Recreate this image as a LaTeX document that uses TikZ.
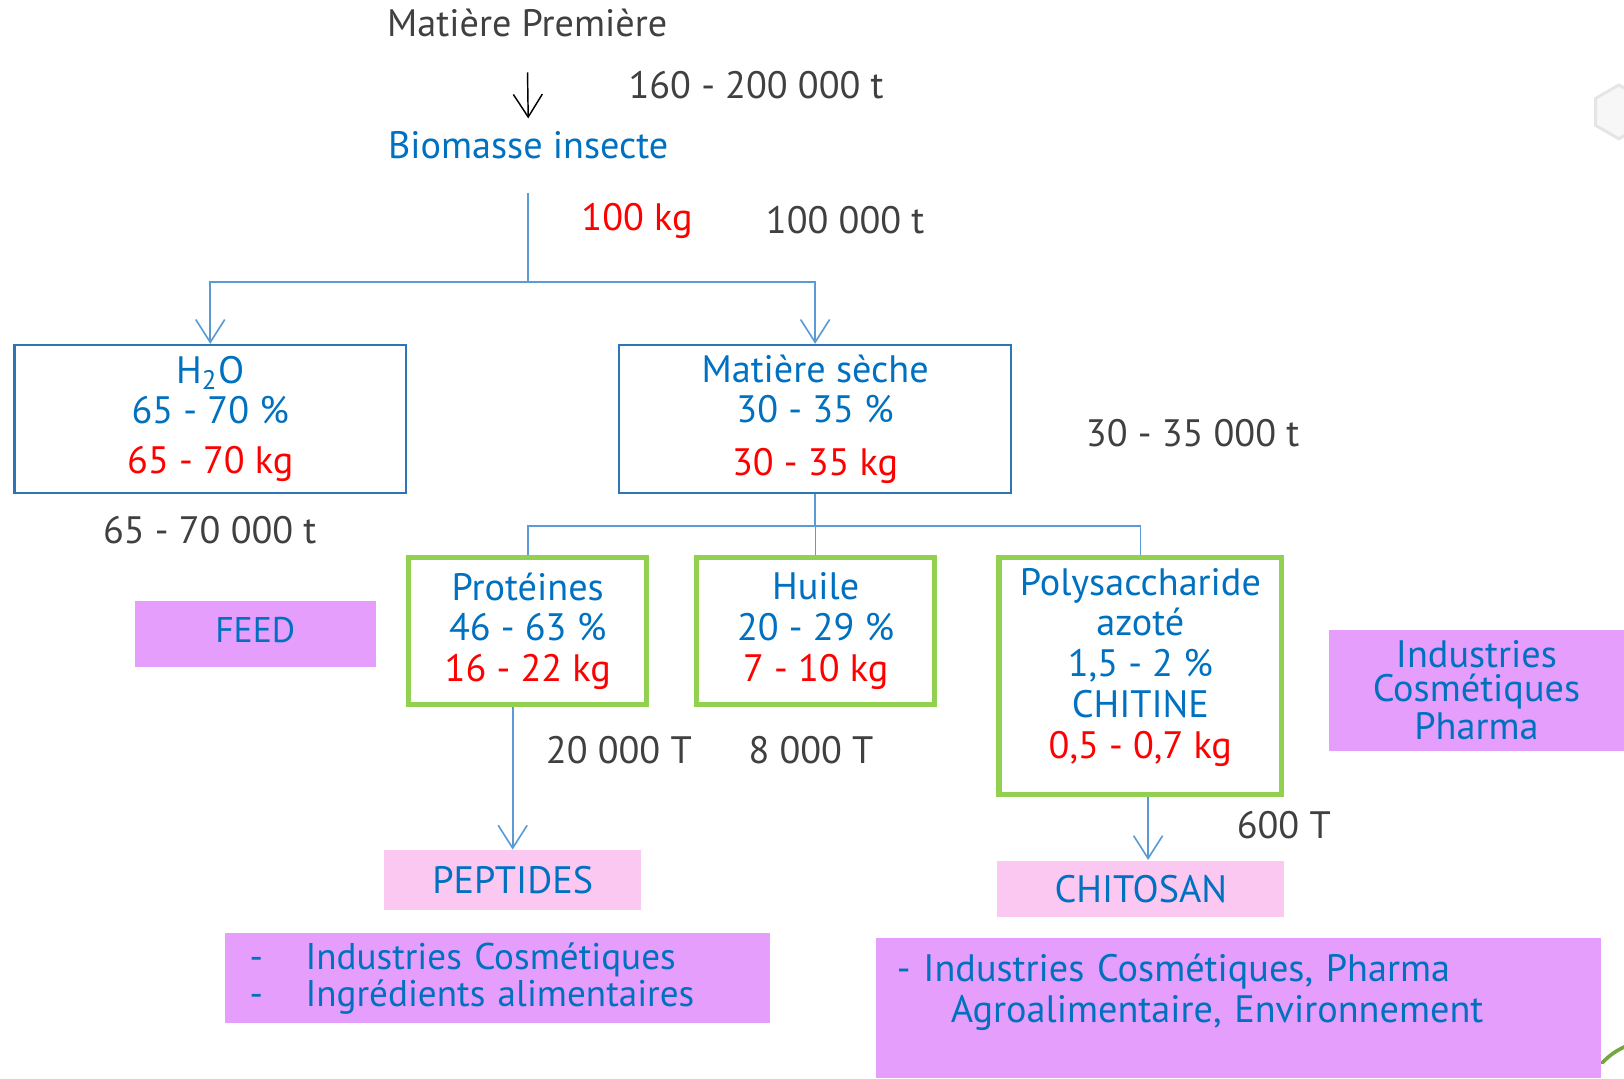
\documentclass[tikz,border=0pt]{standalone}
\usepackage{fontspec}
\setmainfont{PT Sans}
\usetikzlibrary{positioning,arrows.meta,calc}
\definecolor{TextBlue}{RGB}{0,112,192}
\definecolor{TextGray}{RGB}{64,64,64}
\definecolor{MassRed}{RGB}{255,0,0}
\definecolor{BoxBlue}{RGB}{46,117,182}
\definecolor{LinkBlue}{RGB}{91,155,213}
\definecolor{LeafGreen}{RGB}{146,208,80}
\definecolor{UseViolet}{RGB}{229,158,252}
\definecolor{ProdPink}{RGB}{251,200,242}
\newcommand{\mainsize}{\fontsize{10.5}{11.2}\selectfont}
\newcommand{\kg}[1]{\textcolor{MassRed}{#1}}
\tikzset{
  link/.style={draw=LinkBlue,line width=0.45pt},
  linkarrow/.style={-{Straight Barb[length=2.2mm,width=2.8mm]},draw=LinkBlue,line width=0.45pt},
  blackarrow/.style={-{Straight Barb[length=2.2mm,width=2.8mm]},draw=black,line width=0.4pt},
  bluebox/.style={draw=BoxBlue,line width=0.6pt,minimum width=3.78cm,minimum height=1.43cm,
    align=center,font=\mainsize,text=TextBlue,inner sep=0pt},
  greenbox/.style={draw=LeafGreen,line width=1.4pt,minimum width=2.30cm,minimum height=1.42cm,
    align=center,font=\mainsize,text=TextBlue,inner sep=0pt},
  violetbox/.style={fill=UseViolet,align=center,font=\mainsize,text=TextBlue,inner sep=0pt},
  pinkbox/.style={fill=ProdPink,align=center,font=\mainsize,text=TextBlue,inner sep=0pt},
  tonnage/.style={font=\mainsize,text=TextGray},
  flowtext/.style={font=\mainsize,text=TextBlue}
}

\begin{document}
\begin{tikzpicture}
  \useasboundingbox (0,0) rectangle (15.68,-10.41);
  % slide decoration
  \draw[black!10,fill=black!3,line width=0.8pt] (15.63,-0.82) -- (15.405,-0.95) -- (15.405,-1.21)
    -- (15.63,-1.34) -- (15.855,-1.21) -- (15.855,-0.95) -- cycle;
  \draw[LeafGreen!80!black,line width=1pt,line cap=round] (15.47,-10.26) to[bend left=10] (15.70,-10.10);

  % source
  \node[tonnage] (premiere) at (5.09,-0.22) {Matière Première};
  \node[flowtext] (biomasse) at (5.10,-1.40) {Biomasse insecte};
  \node[tonnage] (t160) at (7.30,-0.82) {160 - 200 000 t};
  \node[font=\mainsize,text=MassRed] (kg100) at (6.15,-2.13) {100 kg};
  \node[tonnage] (t100) at (8.16,-2.13) {100 000 t};
  \draw[blackarrow,shorten <=0.22cm] (premiere.south) -- (biomasse.north);
  \coordinate (split) at (5.10,-2.72);

  % first split
  \node[bluebox] (eau) at (2.03,-4.045) {H\textsubscript{2}O\\65 - 70 \%\\[0.09cm]\kg{65 - 70 kg}};
  \node[bluebox] (seche) at (7.87,-4.045) {Matière sèche\\30 - 35 \%\\[0.11cm]\kg{30 - 35 kg}};
  \node[tonnage] (t65) at (2.025,-5.12) {65 - 70 000 t};
  \node[tonnage] (t30) at (11.515,-4.18) {30 - 35 000 t};
  \draw[link,shorten <=0.21cm] (biomasse.south) -- (split);
  \draw[linkarrow] (split) -| (eau.north);
  \draw[linkarrow] (split) -| (seche.north);

  % fractions of the dry matter
  \node[greenbox] (proteines) at (5.095,-6.095) {Protéines\\46 - 63 \%\\\kg{16 - 22 kg}};
  \node[greenbox] (huile) at (7.875,-6.095) {Huile\\20 - 29 \%\\\kg{7 - 10 kg}};
  \node[greenbox,minimum width=2.73cm,minimum height=2.29cm] (chitine) at (11.01,-6.53)
    {Polysaccharide\\azoté\\1,5 - 2 \%\\CHITINE\\\kg{0,5 - 0,7 kg}\\[-0.14cm]\mbox{}};
  \coordinate (split2) at (7.87,-5.08);
  \draw[link] (seche.south) -- (split2);
  \draw[link] (split2) -| (proteines.north);
  \draw[link] (split2) -| (huile.north);
  \draw[link] (split2) -| (chitine.north);

  \node[tonnage] (t20) at (5.975,-7.24) {20 000 T};
  \node[tonnage] (t8) at (7.83,-7.24) {8 000 T};
  \node[tonnage] (t600) at (12.395,-7.97) {600 T};

  % uses
  \node[violetbox,minimum width=2.33cm,minimum height=0.64cm,font=\fontsize{9.8}{10}\selectfont]
    (feed) at (2.465,-6.12) {\raisebox{0.07cm}{FEED}};
  \node[violetbox,minimum width=2.85cm,minimum height=1.17cm,font=\fontsize{10.5}{9.1}\selectfont]
    (pharma) at (14.255,-6.665) {Industries\\Cosmétiques\\Pharma};
  \node[pinkbox,minimum width=2.48cm,minimum height=0.58cm] (peptides) at (4.95,-8.50) {PEPTIDES};
  \node[pinkbox,minimum width=2.77cm,minimum height=0.54cm] (chitosan) at (11.015,-8.58) {CHITOSAN};
  \draw[linkarrow] (peptides.north |- proteines.south) -- (peptides.north);
  \draw[linkarrow] ([xshift=0.07cm]chitosan.north |- chitine.south) -- ([xshift=0.07cm]chitosan.north);

  \node[violetbox,minimum width=5.26cm,minimum height=0.87cm,text width=4.78cm,align=left,
    font=\fontsize{10.2}{10.1}\selectfont] (usagepept) at (4.80,-9.445)
    {\makebox[0.54cm][l]{-}Industries Cosmétiques\\\makebox[0.54cm][l]{-}Ingrédients alimentaires};
  \node[violetbox,minimum width=7.00cm,minimum height=1.35cm,text width=6.60cm,align=left] (usagechito)
    at (11.96,-9.735)
    {- Industries Cosmétiques, Pharma\\\hspace*{0.52cm}Agroalimentaire, Environnement\\\mbox{}};
\end{tikzpicture}
\end{document}
